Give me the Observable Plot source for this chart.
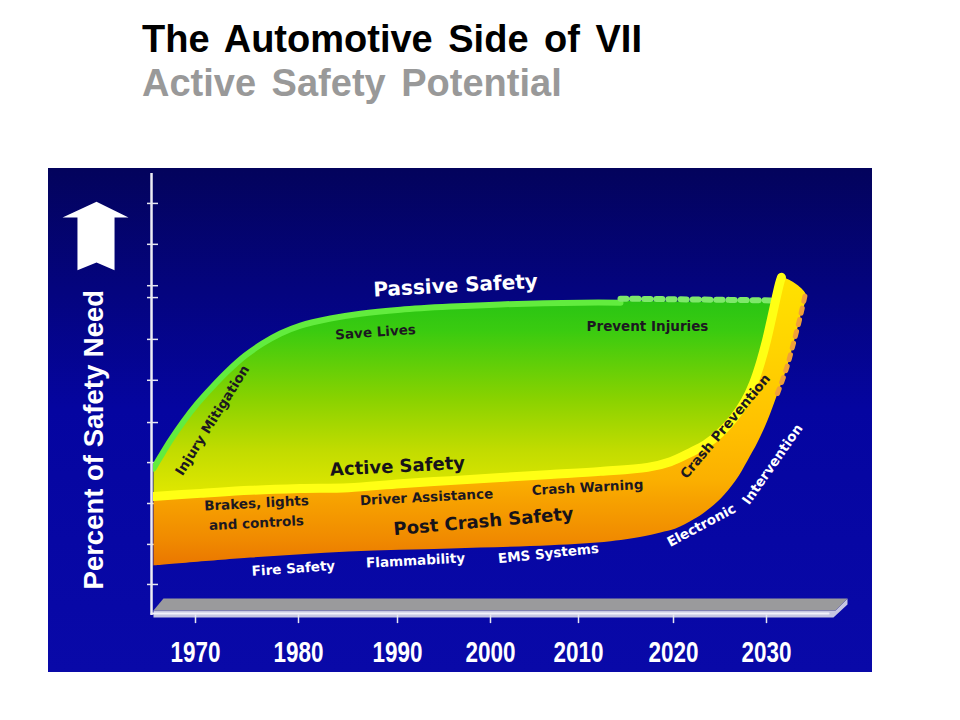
<!DOCTYPE html>
<html>
<head>
<meta charset="utf-8">
<script src="https://cdn.jsdelivr.net/npm/d3@7"></script>
<script src="https://cdn.jsdelivr.net/npm/@observablehq/plot@0.6"></script>
<style>
  html, body { margin: 0; padding: 0; background: #ffffff; }
  body { width: 960px; height: 720px; position: relative; overflow: hidden; font-family: "Liberation Sans", Arial, sans-serif; }
  .ttl { position: absolute; left: 142px; font-size: 38px; line-height: 38px; font-weight: bold; white-space: nowrap; word-spacing: 5px; }
  #title { top: 20px; color: #000000; }
  #subtitle { top: 64px; color: #999999; }
  #chart { position: absolute; left: 48px; top: 168px; width: 824px; height: 504px; }
</style>
</head>
<body>
<div id="title" class="ttl">The Automotive Side of VII</div>
<div id="subtitle" class="ttl">Active Safety Potential</div>
<div id="chart"></div>
<script>
// ---------- data (years on x, percent of safety need on y) ----------
const years = [1970, 1980, 1990, 2000, 2010, 2020, 2030];
const yearLabels = ["1970", "1980", "1990", "2000", "2010", "2020", "2030"];
const yTicks = [6.6, 15.7, 25.0, 34.3, 43.4, 53.0, 62.3, 71.8, 74.5, 83.9, 93.2];

// upper edge of Passive Safety (green) region
const passiveTop = [
  [1965.92, 33.4], [1966.60, 36.1], [1967.57, 39.8], [1968.83, 44.1], [1970.19, 48.2],
  [1971.65, 52.0], [1973.20, 55.7], [1974.85, 59.1], [1976.50, 61.8], [1978.25, 64.1],
  [1980.20, 65.9], [1983.23, 67.5], [1986.26, 68.6], [1990.32, 69.5], [1995.70, 70.2],
  [2001.14, 70.7], [2010.21, 71.1], [2014.42, 71.1], [2022.90, 70.9], [2030.75, 70.7]
];
// Active Safety line (yellow) between green and orange
const activeLine = [
  [1965.92, 26.6], [1970.49, 27.3], [1975.34, 28.0], [1980.20, 28.4], [1985.05, 28.6],
  [1990.32, 29.5], [1995.70, 30.2], [2001.14, 30.9], [2006.82, 31.6], [2012.32, 32.3],
  [2017.26, 33.2], [2019.68, 34.5], [2021.83, 36.6], [2023.44, 38.4], [2025.05, 41.1],
  [2026.45, 44.3], [2027.74, 48.4], [2028.60, 52.3], [2029.35, 57.0], [2030.00, 62.0],
  [2030.54, 67.0], [2030.97, 71.1], [2031.40, 75.0], [2031.61, 76.4]
];
// lower edge of Post Crash Safety (orange) band
const postLower = [
  [1965.92, 10.9], [1975.34, 12.7], [1985.05, 14.1], [1995.70, 14.8], [2006.82, 15.5],
  [2013.37, 16.4], [2017.26, 17.7], [2018.63, 18.4], [2020.22, 19.3], [2022.15, 21.4],
  [2023.44, 23.2], [2025.05, 26.1], [2026.67, 30.2], [2027.96, 34.8], [2029.03, 38.9],
  [2030.11, 43.9], [2031.18, 50.0], [2032.15, 55.7], [2032.90, 61.4], [2033.66, 67.7],
  [2034.19, 72.7]
];

// 3-D floor slab and up arrow
const floorTop = [[1966.89, 3.41], [2038.71, 3.41], [2037.42, 0.68], [1965.92, 0.68]];
const floorFront = [[1965.92, 0.68], [2037.42, 0.68], [2038.71, 3.41], [2038.71, 2.05], [2037.20, -0.91], [1965.92, -0.91]];
const floorLine = [[1965.73, 0], [2036.67, 0]];
const arrow = [
  [1960.39, 93.6], [1963.50, 90.0], [1962.14, 90.0], [1962.14, 78.0],
  [1960.39, 79.8], [1958.54, 78.0], [1958.54, 90.0], [1957.09, 90.0]
];
const axisYear = 1965.73;

// annotations: [text, year, value, angle]
const whiteBig = [["Passive Safety", 1996.24, 74.5, -3]];
const blackBig = [["Active Safety", 1990.0, 33.4, -3], ["Post Crash Safety", 1999.25, 20.9, -5]];
const darkSmall = [
  ["Save Lives", 1987.78, 63.9, -4],
  ["Prevent Injuries", 2017.26, 65.2, 0],
  ["Brakes, lights", 1975.92, 25.0, -3],
  ["and controls", 1975.92, 20.5, -3],
  ["Driver Assistance", 1993.12, 26.4, -3],
  ["Crash Warning", 2010.95, 28.6, -3],
  ["Injury Mitigation", 1971.65, 43.9, -58],
  ["Crash Prevention", 2025.59, 42.5, -50]
];
const whiteSmall = [
  ["Fire Safety", 1979.51, 10.2, -4],
  ["Flammability", 1991.94, 12.0, -3],
  ["EMS Systems", 2006.59, 13.6, -6],
  ["Electronic", 2023.01, 20.0, -28],
  ["Intervention", 2030.65, 33.9, -55]
];
const yLabel = [["Percent of Safety Need", 1960.19, 39.5, -90]];

// ---------- chart ----------
// the picture's decade spacing is slightly uneven: piecewise year -> axis position
const tickPos = [147, 250, 349, 442, 530, 625, 718];
const yearToAxis = d3.scaleLinear().domain(years).range(tickPos);

const xy = {x: d => d[0], y: d => d[1]};
const green = [...passiveTop, ...activeLine.filter(d => d[0] <= 2030.6).reverse()];
const orange = [...activeLine, ...postLower.slice().reverse()];
const passiveSolid = passiveTop.filter(d => d[0] <= 2014.5);
const passiveDotted = passiveTop.filter(d => d[0] >= 2014.4);
const outerDotted = postLower.filter(d => d[1] >= 48);

const txt = (arr, o) => Plot.text(arr, {
  x: d => d[1], y: d => d[2], text: d => d[0], rotate: d => d[3],
  fontFamily: "DejaVu Sans", fontWeight: "bold", ...o
});

const chart = Plot.plot({
  width: 824,
  height: 504,
  marginLeft: 105, marginRight: 0, marginTop: 0, marginBottom: 0,
  style: {background: "linear-gradient(to bottom, #03035c 0%, #0505a0 48%, #0909a8 100%)", overflow: "visible"},
  x: {transform: yearToAxis, domain: [tickPos[0], tickPos[6]], range: [tickPos[0], tickPos[6]], axis: null},
  y: {domain: [0, 100], range: [445, 5], axis: null},
  marks: [
    // floor slab
    Plot.line(floorFront, {...xy, fill: "#c6c6e2", stroke: "none"}),
    Plot.line(floorLine, {...xy, stroke: "#f2f2fa", strokeWidth: 2}),
    Plot.line(floorTop, {...xy, fill: "#9a9a9c", stroke: "none"}),
    // y axis
    Plot.ruleX([axisYear], {x: d => d, y1: -0.45, y2: 100, stroke: "#ececf4", strokeWidth: 2.5}),
    Plot.ruleY(yTicks, {y: d => d, x1: 1965.34, x2: 1966.41, stroke: "#e6e6f0", strokeWidth: 1.5}),
    // x ticks + labels
    Plot.ruleX(years, {x: d => d, y1: -0.3, y2: -2.3, stroke: "#e6e6f0", strokeWidth: 1.5}),
    Plot.text(yearLabels, {
      x: (d, i) => years[i], y: -8.86, text: d => d,
      fill: "white", fontSize: 30, fontWeight: "bold",
      fontFamily: "'Liberation Sans', Arial, sans-serif"
    }),
    // green passive region
    Plot.line(green, {...xy, fill: "url(#gGreen)", stroke: "none", curve: "catmull-rom", clip: true}),
    Plot.line(passiveSolid, {...xy, stroke: "#62ec3e", strokeWidth: 6, dy: 2, curve: "catmull-rom", clip: true}),
    Plot.line(passiveDotted, {...xy, stroke: "#7ee86a", strokeWidth: 6, dy: -2, strokeDasharray: "6,6", curve: "catmull-rom"}),
    // orange post-crash band
    Plot.line(orange, {...xy, fill: "url(#gOrange)", stroke: "none", curve: "catmull-rom", clip: true}),
    Plot.line(activeLine, {...xy, stroke: "#ffff14", strokeWidth: 9, curve: "catmull-rom", clip: true}),
    Plot.line(outerDotted, {...xy, stroke: "#f0a038", strokeWidth: 5, strokeDasharray: "5,7", curve: "catmull-rom"}),
    // annotations
    txt(whiteBig, {fill: "white", fontSize: 20}),
    txt(blackBig, {fill: "#16121a", fontSize: 18}),
    txt(darkSmall, {fill: "#1c1820", fontSize: 13.5}),
    txt(whiteSmall, {fill: "white", fontSize: 13.5}),
    // up arrow and vertical label
    Plot.line(arrow, {...xy, fill: "white", stroke: "none"}),
    txt(yLabel, {fill: "white", fontSize: 27.5, fontFamily: "'Liberation Sans', Arial, sans-serif"})
  ]
});

// gradients tied to the y scale
const ys = chart.scale("y");
const defs = d3.select(chart).insert("defs", ":first-child");
function grad(id, v1, v2, stops) {
  const g = defs.append("linearGradient").attr("id", id)
    .attr("gradientUnits", "userSpaceOnUse")
    .attr("x1", 0).attr("x2", 0)
    .attr("y1", ys.apply(v1)).attr("y2", ys.apply(v2));
  stops.forEach(([o, c]) => g.append("stop").attr("offset", o).attr("stop-color", c));
}
grad("gGreen", 71.4, 26.6, [[0, "#28c414"], [0.16, "#3acb10"], [0.5, "#88d200"], [0.77, "#c2dc00"], [1, "#e2e800"]]);
grad("gOrange", 76.4, 10.9, [[0, "#ffe200"], [0.25, "#ffd400"], [0.53, "#ffc000"], [0.7, "#fbb000"], [0.77, "#f7a200"], [0.91, "#f08a00"], [1, "#ea7600"]]);

// condensed look of the decade labels
d3.select(chart).selectAll("text")
  .filter(function () { return yearLabels.includes(this.textContent); })
  .attr("textLength", 50).attr("lengthAdjust", "spacingAndGlyphs");

document.getElementById("chart").appendChild(chart);
</script>
</body>
</html>
